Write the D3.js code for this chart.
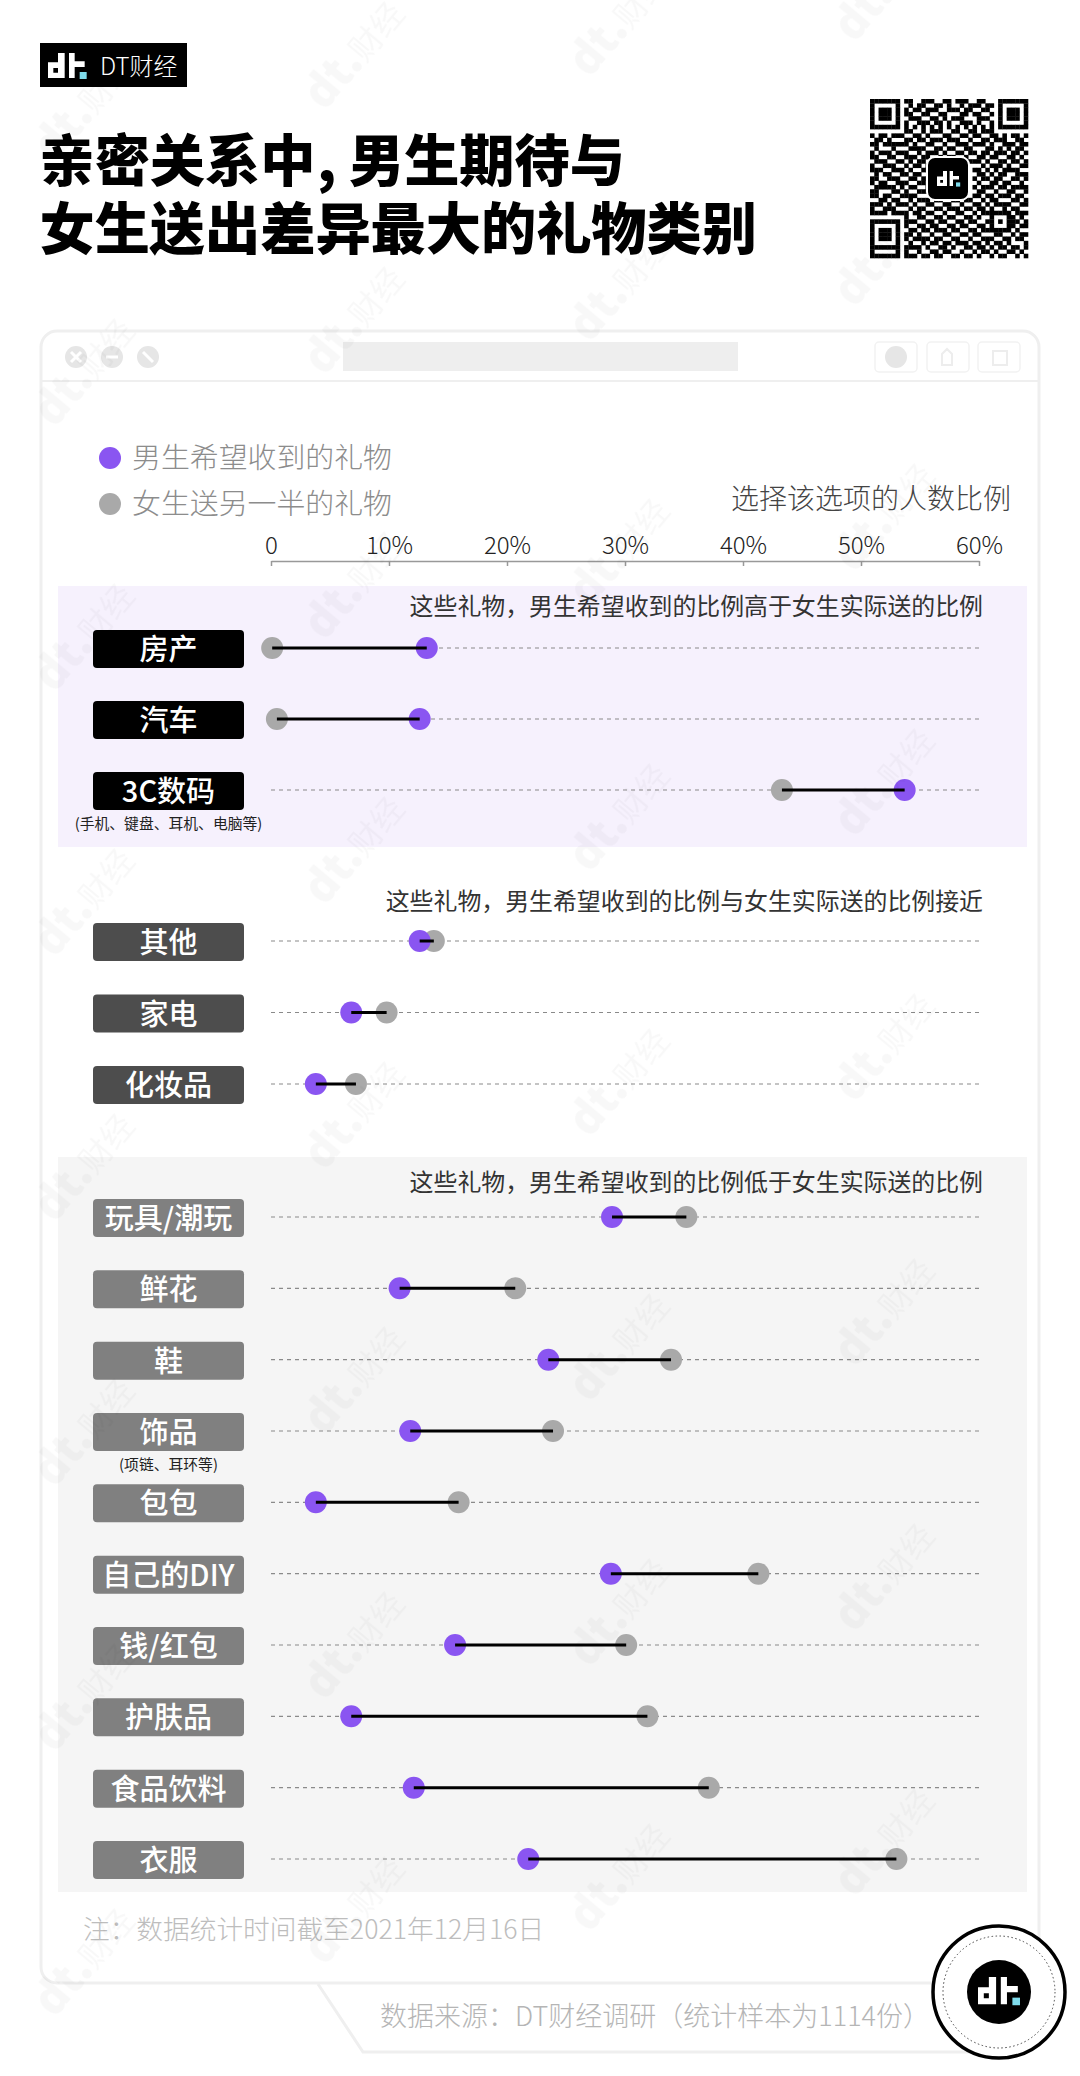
<!DOCTYPE html>
<html>
<head>
<meta charset="utf-8">
<script src="https://cdn.jsdelivr.net/npm/d3@7"></script>
<style>
  body { margin: 0; background: #fff; }
  svg { display: block; }
  text { font-family: "Noto Sans CJK SC", "Noto Sans", sans-serif; }
</style>
</head>
<body>
<div id="chart"></div>
<script>
// values (% of respondents)
var groupOne = ["房产", "汽车", "3C数码"];
var groupOneWanted = [13.2, 12.6, 53.7];
var groupOneGiven = [0.1, 0.5, 43.3];

var groupTwo = ["其他", "家电", "化妆品"];
var groupTwoWanted = [12.6, 6.8, 3.8];
var groupTwoGiven = [13.8, 9.8, 7.2];

var groupThree = ["玩具/潮玩", "鲜花", "鞋", "饰品", "包包", "自己的DIY", "钱/红包", "护肤品", "食品饮料", "衣服"];
var groupThreeWanted = [28.9, 10.9, 23.5, 11.8, 3.8, 28.8, 15.6, 6.8, 12.1, 21.8];
var groupThreeGiven = [35.2, 20.7, 33.9, 23.9, 15.9, 41.3, 30.1, 31.9, 37.1, 53.0];

var axisTicks = [0, 10, 20, 30, 40, 50, 60];
var legendLabels = ["男生希望收到的礼物", "女生送另一半的礼物"];
var captions = ["这些礼物\uFF0C男生希望收到的比例高于女生实际送的比例",
  "这些礼物\uFF0C男生希望收到的比例与女生实际送的比例接近",
  "这些礼物\uFF0C男生希望收到的比例低于女生实际送的比例"];
var subLabels = {"3C数码": "(手机、键盘、耳机、电脑等)", "饰品": "(项链、耳环等)"};

var qrRows = [
  "1111111011001110011011100110001111111",
  "1000001001011001101001011101101000001",
  "1011101010110111001110110011001011101",
  "1011101011001100110001101100101011101",
  "1011101001110011010111000111001011101",
  "1000001010011101101001110100101000001",
  "1111111010101010101010101010101111111",
  "0000000011001011100110011011100000000",
  "1011011100110100011001101100110101101",
  "0110100011011011101110010011011100110",
  "1101111110100110010011101110100111011",
  "0100010001111001101100110001101010110",
  "1011101110010111010011011011011101101",
  "1100110011101100101100100110110011010",
  "0111001101011011010011011101001101101",
  "1001110010110100111101100010111010011",
  "1110011101001111000000001101010111100",
  "0101100110110010000000000110101100111",
  "1100111001101100000000001011011001101",
  "1011001110011011000000000100110110010",
  "0111110101100110000000001011101101111",
  "1100011010011101000000000110010011001",
  "1101100111100010000000001101101110110",
  "0011011001011101100110110010110001101",
  "1110101110100110011001001101011110011",
  "1001110001011001101110110110100101100",
  "1111011110110110010011001011111110111",
  "0000000010011001101100110100100011010",
  "1111111011100110110011011001101011101",
  "1000001010011011001101100110100011011",
  "1011101001101101110110011011111110100",
  "1011101011010010011001101100011001011",
  "1011101010111101100110010011100110110",
  "1000001001001011011011101101011010001",
  "1111111011110100110100110110101101101",
  "1000001010010011011001001011010011010",
  "1111111011101101100110110100101100101"
];

var wmX = [95, 365, 630, 895];
var wmY = [115, 63, 30, -5];

var width = 1080, height = 2076;
var purple = "#8a55f1", grey = "#a9a9a9";

var svg = d3.select("#chart").append("svg")
  .attr("width", width)
  .attr("height", height)
  .style("background", "#fff");

// dt logo, drawn in a 115 x 78 unit box
function drawLogo(parent, x, y, k, color) {
  var g = parent.append("g").attr("transform", "translate(" + x + "," + y + ") scale(" + k + ")");
  g.append("path")
    .attr("fill", color)
    .attr("fill-rule", "evenodd")
    .attr("d", "M30,0H50V75H0V28H30ZM16,45V59H30V45ZM63,0H80V25H110V42H80V75H63Z");
  g.append("rect").attr("x", 95).attr("y", 57).attr("width", 21).attr("height", 21).attr("fill", "#7fdcec");
}

// header
svg.append("rect").attr("x", 40).attr("y", 43).attr("width", 147).attr("height", 44).attr("fill", "#000");
drawLogo(svg, 48, 53, 1 / 3, "#fff");
svg.append("text").attr("x", 100).attr("y", 75).attr("fill", "#fff")
  .style("font-size", "24px").style("font-weight", 300).text("DT财经");

var titleG = svg.append("g").attr("fill", "#000").style("font-size", "55.2px").style("font-weight", 900);
titleG.append("text").attr("x", 39.5).attr("y", 181).text("亲密关系中");
titleG.append("text").attr("x", 317).attr("y", 181).text(",");
titleG.append("text").attr("x", 349).attr("y", 181).text("男生期待与");
titleG.append("text").attr("x", 39.5).attr("y", 249).text("女生送出差异最大的礼物类别");

// qr code
var qrX = d3.scaleBand().domain(d3.range(37)).range([870, 1028]);
var qrY = d3.scaleBand().domain(d3.range(37)).range([99, 258]);
qrRows.forEach(function(row, r) {
  row.split("").forEach(function(c, i) {
    if (c === "1") {
      svg.append("rect").attr("x", qrX(i)).attr("y", qrY(r))
        .attr("width", qrX.bandwidth() + 0.3).attr("height", qrY.bandwidth() + 0.3);
    }
  });
});
svg.append("rect").attr("x", 927).attr("y", 157).attr("width", 42).attr("height", 43).attr("rx", 8)
  .attr("fill", "#000").attr("stroke", "#fff").attr("stroke-width", 2);
drawLogo(svg, 937, 171, 0.2, "#fff");

// browser window frame
var frame = "#efefef";
svg.append("rect").attr("x", 41).attr("y", 331).attr("width", 998).attr("height", 1652).attr("rx", 16)
  .attr("fill", "#fff").attr("stroke", frame).attr("stroke-width", 3);
svg.append("line").attr("x1", 41).attr("x2", 1039).attr("y1", 381).attr("y2", 381)
  .attr("stroke", frame).attr("stroke-width", 2);
svg.append("rect").attr("x", 343).attr("y", 342).attr("width", 395).attr("height", 29).attr("fill", "#eeeeee");

[76, 112, 148].forEach(function(cx, i) {
  svg.append("circle").attr("cx", cx).attr("cy", 357).attr("r", 11).attr("fill", "#e6e6e6");
  svg.append("path").attr("stroke", "#fff").attr("stroke-width", 3).attr("fill", "none")
    .attr("d", i === 0 ? "M" + (cx - 5) + ",352l10,10m0,-10l-10,10"
      : i === 1 ? "M" + (cx - 6) + ",357h12"
      : "M" + (cx - 5) + ",352l10,10");
});
[875, 927, 978].forEach(function(bx) {
  svg.append("rect").attr("x", bx).attr("y", 342).attr("width", 42).attr("height", 30).attr("rx", 4)
    .attr("fill", "#fff").attr("stroke", "#f2f2f2").attr("stroke-width", 1.5);
});
svg.append("circle").attr("cx", 896).attr("cy", 357).attr("r", 11).attr("fill", "#e6e6e6");
svg.append("path").attr("fill", "none").attr("stroke", "#ededed").attr("stroke-width", 2)
  .attr("d", "M942,365v-11l5,-5l5,5v11zM993,351h14v14h-14z");

// source tab
svg.append("path")
  .attr("d", "M318,1984L363,2052H975")
  .attr("fill", "none").attr("stroke", frame).attr("stroke-width", 3);

// x scale + axis
var x = d3.scaleLinear().domain([0, 60]).range([271, 979]);

var axisG = svg.append("g")
  .attr("transform", "translate(0,561)")
  .call(d3.axisTop(x)
    .tickValues(axisTicks)
    .tickSize(0)
    .tickPadding(7)
    .tickFormat(function(d) { return d === 0 ? "0" : d + "%"; }));
axisG.selectAll(".domain").attr("stroke", "#999").attr("stroke-width", 1.5);
axisG.selectAll(".tick line").attr("y2", 5).attr("stroke", "#999").attr("stroke-width", 1.5);
axisG.selectAll(".tick text")
  .attr("fill", "#222")
  .style("font-size", "24px")
  .style("font-weight", 300)
  .style("font-family", '"Noto Sans CJK SC"');

// legend + axis title
[purple, grey].forEach(function(color, i) {
  var ly = i === 0 ? 458 : 504;
  svg.append("circle").attr("cx", 110).attr("cy", ly).attr("r", 11).attr("fill", color);
  svg.append("text").attr("x", 132).attr("y", ly + 10).attr("fill", "#8c8c8c")
    .style("font-size", "28.9px").style("font-weight", 300).text(legendLabels[i]);
});
svg.append("text").attr("x", 1011).attr("y", 509).attr("text-anchor", "end").attr("fill", "#444")
  .style("font-size", "28px").style("font-weight", 300).text("选择该选项的人数比例");

// panels behind groups
svg.append("rect").attr("x", 58).attr("y", 586).attr("width", 969).attr("height", 261).attr("fill", "#f6f1fd");
svg.append("rect").attr("x", 58).attr("y", 1157).attr("width", 969).attr("height", 735).attr("fill", "#f5f5f5");

// each group: names, values, tag colour, first/last row, caption position
function drawGroup(names, wanted, given, tagColor, yRange, capY, caption) {
  var y = d3.scalePoint().domain(names).range(yRange);

  svg.append("text").attr("x", 983).attr("y", capY).attr("text-anchor", "end").attr("fill", "#333")
    .style("font-size", "23.9px").style("font-weight", 400).text(caption);

  var row = svg.selectAll(".row-" + tagColor.slice(1))
    .data(names)
    .enter().append("g")
    .attr("class", "row-" + tagColor.slice(1))
    .attr("transform", function(d) { return "translate(0," + y(d) + ")"; });

  row.append("line")
    .attr("x1", x(0)).attr("x2", x(60))
    .attr("stroke", "#8a8a8a").attr("stroke-width", 1.2).attr("stroke-dasharray", "4,4");

  row.append("rect")
    .attr("x", 93).attr("y", -18).attr("width", 151).attr("height", 38).attr("rx", 4)
    .attr("fill", tagColor);

  row.append("text")
    .attr("x", 168.5).attr("y", 12)
    .attr("text-anchor", "middle")
    .attr("fill", "#fff")
    .style("font-size", "29px")
    .style("font-weight", 500)
    .text(function(d) { return d; });

  row.filter(function(d) { return subLabels[d]; })
    .append("text")
    .attr("x", 168.5).attr("y", 39)
    .attr("text-anchor", "middle")
    .attr("fill", "#222")
    .style("font-size", "14.8px")
    .text(function(d) { return subLabels[d]; });

  row.append("circle")
    .attr("cx", function(d, i) { return x(given[i]); })
    .attr("r", 11).attr("fill", grey);
  row.append("circle")
    .attr("cx", function(d, i) { return x(wanted[i]); })
    .attr("r", 11).attr("fill", purple);
  row.append("line")
    .attr("x1", function(d, i) { return x(given[i]); })
    .attr("x2", function(d, i) { return x(wanted[i]); })
    .attr("stroke", "#000").attr("stroke-width", 3);
}

drawGroup(groupOne, groupOneWanted, groupOneGiven, "#000000", [648, 790], 615, captions[0]);
drawGroup(groupTwo, groupTwoWanted, groupTwoGiven, "#4d4d4d", [941, 1084], 910, captions[1]);
drawGroup(groupThree, groupThreeWanted, groupThreeGiven, "#808080", [1217, 1859], 1191, captions[2]);

// footnotes
svg.append("text").attr("x", 83).attr("y", 1939).attr("fill", "#bdbdbd")
  .style("font-size", "26.7px").style("font-weight", 300).text("注\uFF1A数据统计时间截至2021年12月16日");
svg.append("text").attr("x", 380).attr("y", 2026).attr("fill", "#b5b5b5")
  .style("font-size", "27px").style("font-weight", 300).text("数据来源\uFF1ADT财经调研\uFF08统计样本为1114份\uFF09");

// round badge
svg.append("circle").attr("cx", 999).attr("cy", 1992).attr("r", 66)
  .attr("fill", "#fff").attr("stroke", "#000").attr("stroke-width", 3.5);
svg.append("circle").attr("cx", 999).attr("cy", 1992).attr("r", 56)
  .attr("fill", "none").attr("stroke", "#444").attr("stroke-width", 1).attr("stroke-dasharray", "1.5,2.5");
svg.append("circle").attr("cx", 999).attr("cy", 1992).attr("r", 32).attr("fill", "#000");
drawLogo(svg, 978, 1977, 0.362, "#fff");

// watermark on top of everything
var wm = svg.append("g").attr("fill", "#000").attr("opacity", 0.028);
wmX.forEach(function(cx, c) {
  for (var k = 0; k < 8; k++) {
    var cy = wmY[c] + k * 265;
    var t = wm.append("text")
      .attr("text-anchor", "middle")
      .attr("transform", "translate(" + cx + "," + cy + ") rotate(-50)");
    t.append("tspan").style("font-size", "44px").style("font-weight", 900).text("dt.");
    t.append("tspan").style("font-size", "32px").style("font-weight", 400).text("财经");
  }
});
</script>
</body>
</html>
